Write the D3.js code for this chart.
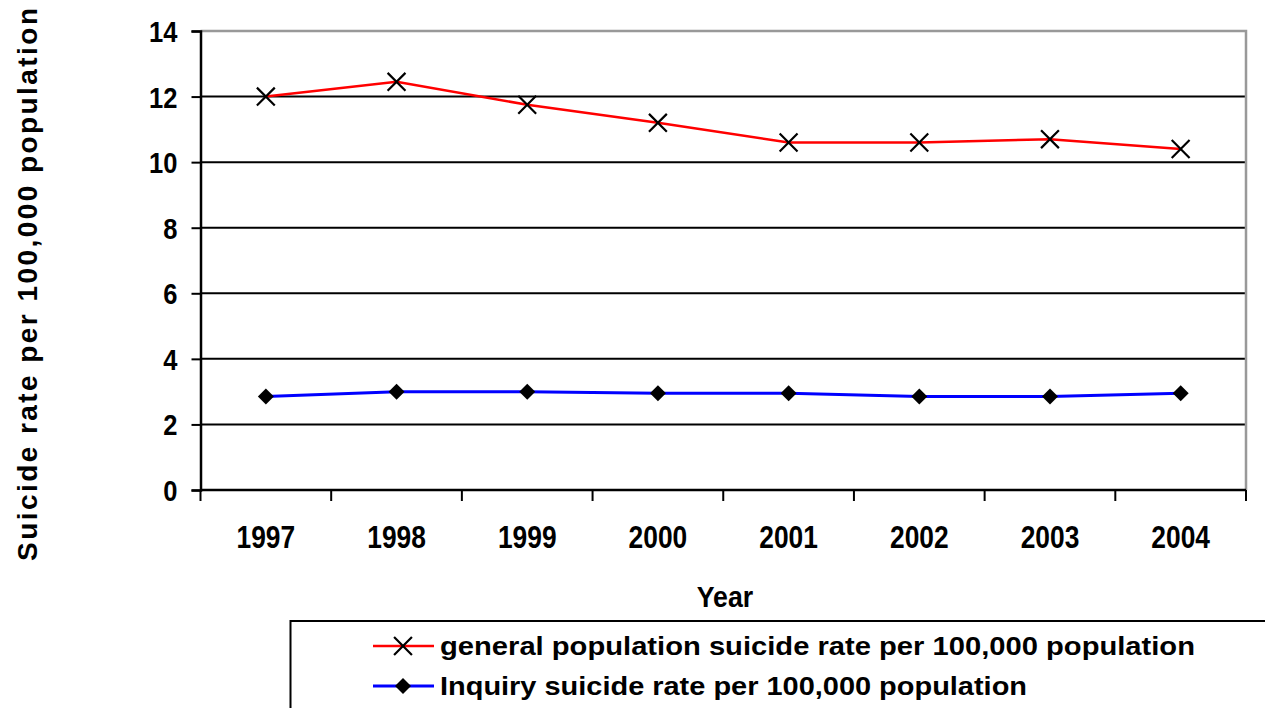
<!DOCTYPE html>
<html>
<head>
<meta charset="utf-8">
<script src="https://cdn.jsdelivr.net/npm/d3@7"></script>
<style>
  html, body { margin: 0; padding: 0; background: #fff; }
  svg { display: block; }
  text { font-family: "Liberation Sans", Arial, sans-serif; font-weight: bold; fill: #000; }
</style>
</head>
<body>
<svg id="chart" width="1265" height="708"></svg>
<script>
// Years on the category axis
const years = ["1997", "1998", "1999", "2000", "2001", "2002", "2003", "2004"];
// Suicide rate per 100,000 population, general population
const generalRate = [12.0, 12.45, 11.75, 11.2, 10.6, 10.6, 10.7, 10.4];
// Suicide rate per 100,000 population, inquiry cases
const inquiryRate = [2.85, 3.0, 3.0, 2.95, 2.95, 2.85, 2.85, 2.95];
// Value axis ticks
const yTicks = [0, 2, 4, 6, 8, 10, 12, 14];

const seriesNames = [
  "general population suicide rate per 100,000 population",
  "Inquiry suicide rate per 100,000 population"
];

const svg = d3.select("#chart");
const plot = { left: 200.5, right: 1246, top: 31, bottom: 490 };

const x = d3.scaleBand().domain(years).range([plot.left, plot.right]);
const y = d3.scaleLinear().domain([0, 14]).range([plot.bottom, plot.top]);

// squeeze bold text horizontally to get a condensed look
function narrow(sel, factor) {
  sel.each(function () {
    const w = this.getComputedTextLength();
    d3.select(this).attr("textLength", w * factor).attr("lengthAdjust", "spacingAndGlyphs");
  });
}

// horizontal gridlines
svg.append("g")
  .selectAll("line")
  .data(yTicks.filter(d => d > 0 && d < 14))
  .join("line")
  .attr("x1", plot.left).attr("x2", plot.right)
  .attr("y1", d => y(d)).attr("y2", d => y(d))
  .attr("stroke", "#000").attr("stroke-width", 2);

// plot frame: grey top and right edges
svg.append("path")
  .attr("d", `M${plot.left},${y(14)}H${plot.right}V${plot.bottom}`)
  .attr("fill", "none").attr("stroke", "#999").attr("stroke-width", 2.5);

// y axis
const yAxis = svg.append("g")
  .attr("transform", `translate(${plot.left},0)`)
  .call(d3.axisLeft(y).tickValues(yTicks).tickSize(9).tickPadding(14).tickFormat(d3.format("d")));
yAxis.select(".domain").attr("stroke", "#000").attr("stroke-width", 2.5);
yAxis.selectAll(".tick line").attr("stroke", "#000").attr("stroke-width", 2);
yAxis.selectAll(".tick text")
  .style("font-family", "'Liberation Sans', Arial, sans-serif")
  .style("font-weight", "bold")
  .attr("font-size", 29)
  .attr("fill", "#000")
  .attr("dy", "0.36em")
  .call(narrow, 0.88);

// x axis along zero line, ticks on band boundaries
const xAxis = svg.append("g")
  .attr("transform", `translate(0,${plot.bottom})`)
  .call(d3.axisBottom(x).tickSize(0).tickPadding(36));
xAxis.select(".domain").remove();
svg.append("line")
  .attr("x1", plot.left).attr("x2", plot.right)
  .attr("y1", plot.bottom).attr("y2", plot.bottom)
  .attr("stroke", "#000").attr("stroke-width", 2.5);
svg.append("g")
  .selectAll("line")
  .data(years.map(d => x(d)).concat([plot.right]))
  .join("line")
  .attr("x1", d => d).attr("x2", d => d)
  .attr("y1", plot.bottom).attr("y2", plot.bottom + 11)
  .attr("stroke", "#000").attr("stroke-width", 2);
xAxis.selectAll(".tick text")
  .style("font-family", "'Liberation Sans', Arial, sans-serif")
  .style("font-weight", "bold")
  .attr("font-size", 31)
  .attr("fill", "#000")
  .call(narrow, 0.85);

// axis titles
svg.append("text")
  .attr("x", 725).attr("y", 607)
  .attr("text-anchor", "middle")
  .attr("font-size", 30)
  .text("Year")
  .call(narrow, 0.89);

svg.append("text")
  .attr("transform", "translate(37,284.5) rotate(-90)")
  .attr("text-anchor", "middle")
  .attr("font-size", 28)
  .attr("textLength", 553)
  .attr("lengthAdjust", "spacing")
  .text("Suicide rate per 100,000 population");

// series lines
const line = d3.line()
  .x((d, i) => x(years[i]) + x.bandwidth() / 2)
  .y(d => y(d));

svg.append("path")
  .datum(generalRate)
  .attr("d", line)
  .attr("fill", "none").attr("stroke", "#ff0000").attr("stroke-width", 2.5);

svg.append("path")
  .datum(inquiryRate)
  .attr("d", line)
  .attr("fill", "none").attr("stroke", "#0000ff").attr("stroke-width", 3);

// markers
const crossSym = d3.symbol().type(d3.symbolX).size(210);
const diamondSym = "M0,-8L8,0L0,8L-8,0Z";

svg.append("g")
  .selectAll("path")
  .data(generalRate)
  .join("path")
  .attr("transform", (d, i) => `translate(${x(years[i]) + x.bandwidth() / 2},${y(d)})`)
  .attr("d", crossSym)
  .attr("fill", "none").attr("stroke", "#000").attr("stroke-width", 2.2);

svg.append("g")
  .selectAll("path")
  .data(inquiryRate)
  .join("path")
  .attr("transform", (d, i) => `translate(${x(years[i]) + x.bandwidth() / 2},${y(d)})`)
  .attr("d", diamondSym)
  .attr("fill", "#000");

// legend
const legend = svg.append("g");
legend.append("rect")
  .attr("x", 290.5).attr("y", 621)
  .attr("width", 1000).attr("height", 120)
  .attr("fill", "#fff").attr("stroke", "#000").attr("stroke-width", 2);

const legendRows = [
  { name: seriesNames[0], color: "#ff0000", marker: "x", y: 646, len: 755 },
  { name: seriesNames[1], color: "#0000ff", marker: "d", y: 686, len: 587 }
];
legendRows.forEach(r => {
  legend.append("line")
    .attr("x1", 373).attr("x2", 434)
    .attr("y1", r.y).attr("y2", r.y)
    .attr("stroke", r.color).attr("stroke-width", r.marker === "x" ? 2.5 : 3);
  if (r.marker === "x") {
    legend.append("path")
      .attr("transform", `translate(403,${r.y})`)
      .attr("d", crossSym)
      .attr("fill", "none").attr("stroke", "#000").attr("stroke-width", 2.2);
  } else {
    legend.append("path")
      .attr("transform", `translate(403,${r.y})`)
      .attr("d", diamondSym)
      .attr("fill", "#000");
  }
  legend.append("text")
    .attr("x", 440).attr("y", r.y + 9)
    .attr("font-size", 26)
    .attr("textLength", r.len)
    .attr("lengthAdjust", "spacingAndGlyphs")
    .text(r.name);
});
</script>
</body>
</html>
